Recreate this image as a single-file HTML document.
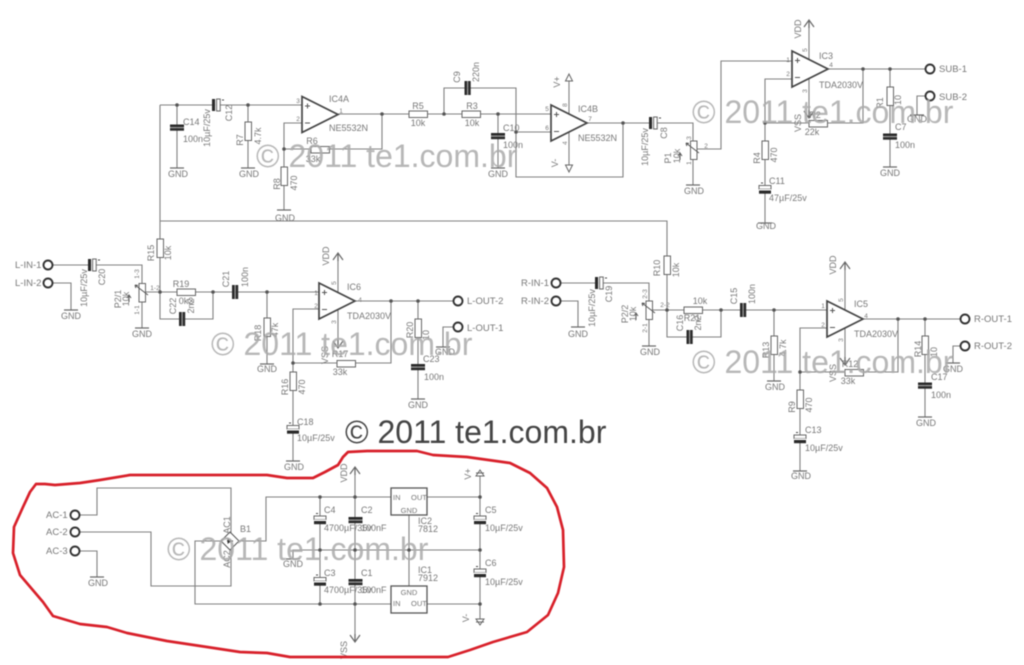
<!DOCTYPE html>
<html><head><meta charset="utf-8"><title>Schematic</title>
<style>
html,body{margin:0;padding:0;background:#fff;width:1024px;height:665px;overflow:hidden}
svg{display:block;filter:blur(.45px)}
text{font-family:"Liberation Sans",sans-serif;font-size:9px;fill:#777}
.c{text-anchor:middle}
.p{font-size:6.5px;fill:#777;text-anchor:middle}
.w{font-size:32px;fill:#aaa;fill-opacity:.85}
.k{font-size:9.5px;fill:#777}
.wire{fill:none;stroke:#808080;stroke-width:1.1}
.sym{fill:#fff;stroke:#666;stroke-width:1}
.amp{fill:#fff;stroke:#444;stroke-width:1.7}
.blk{fill:#2a2a2a;stroke:none}
.bar{stroke:#666;stroke-width:1.2;fill:none}
.pin{fill:#fff;stroke:#333;stroke-width:1.9}
</style></head><body>
<svg width="1024" height="665" viewBox="0 0 1024 665" xmlns="http://www.w3.org/2000/svg">
<defs>
<rect id="rv" class="sym" x="-3" y="0" width="6.5" height="18.5"/>
<rect id="rh" class="sym" x="0" y="-3" width="18.5" height="6.5"/>
<circle id="d" r="1.8" fill="#555"/>
<path id="g" class="bar" d="M-7 0H7"/>
<g id="cv"><rect class="blk" x="-7" y="-3" width="14" height="2.6"/><rect class="blk" x="-7" y=".6" width="14" height="2.6"/><rect x="-7" y="-.4" width="14" height="1" fill="#999"/></g>
<g id="ch"><rect class="blk" x="-3" y="-7" width="2.6" height="14"/><rect class="blk" x=".6" y="-7" width="2.6" height="14"/><rect x="-.4" y="-7" width="1" height="14" fill="#999"/></g>
<g id="pv"><rect class="sym" x="-6" y="-4" width="12" height="3.6"/><rect x="-6" y="-.4" width="12" height="1.4" fill="#fff"/><rect class="blk" x="-6" y="1" width="12" height="3.2"/><path d="M-4-6.5h2" stroke="#444" fill="none"/></g>
<g id="phr"><rect class="blk" x="-5" y="-6" width="3.2" height="12"/><rect x="-1.8" y="-6" width="1.4" height="12" fill="#fff"/><rect class="sym" x="-.4" y="-6" width="3.6" height="12"/><path d="M5-5h2" stroke="#444" fill="none"/></g>
<path id="up" class="bar" d="M-5 7L0 0L5 7M0 0V8" stroke-width="1.4"/>
<path id="down" class="bar" d="M-5-7L0 0L5-7M0 0V-8"/>
<g id="amp"><path class="amp" d="M0 0V36L36 18Z"/><path d="M3 9.500h5M5.500 7v5M3 26.500h5" stroke="#555" fill="none"/></g>
<path id="wp" fill="none" stroke="#555" d="M6 6L-7-4M-7-4l3 .5M-7-4l.8 3M-13 6v7M-15 9l2-3 2 3"/>
</defs>

<path class="wire" d="M160 105H302M177 105V168M248 105V168M302 123H284V210M284 149H382V114M338 114H498M444 114V88H516V177H623V123M498 114H551M498 114V168M516 132H551M587 123H693V185M569 81V165M697 149H721V61H792M792 79H765V223M765 123H863V69M827 69H925M809 20V118M890 69V167M925 96H917V115"/>
<path class="wire" d="M160 105V292M160 221H667V310M53 265H142V328M53 283H71V310M145 292H213M160 292V319H213V292M213 292H319M267 292V364M319 309H293V461M293 363H391V301M356 301H453M338 253V348M418 301V399M453 327H443V347"/>
<path class="wire" d="M561 283H649V346M561 301H578V327M652 310H721M667 310V337H721V310M721 310H827M774 310V381M827 328H800V471M800 372H898V319M863 319H960M845 262V365M925 319V417M960 346H953V363"/>
<path class="wire" d="M80 515H97V488H231V533M80 532H151V586H231V550M80 551H97V577M221 541H195V604H391M239 541H266V497H391M427 497H480M427 604H480M293 559V550H480M320 497V604M355 467V642M409 515V586M480 473V622"/>

<!-- top left -->
<use href="#d" x="177" y="105"/><use href="#cv" x="177" y="127.500"/><use href="#g" x="177" y="168"/>
<use href="#phr" x="217" y="105"/>
<use href="#d" x="248" y="105"/><use href="#rv" x="248" y="122"/><use href="#g" x="248" y="168"/>
<use href="#amp" x="302" y="96.500"/>
<use href="#d" x="284" y="149"/><use href="#rh" x="311" y="149.500"/><use href="#rv" x="284" y="167"/><use href="#g" x="284" y="210"/>
<use href="#d" x="382" y="114"/><use href="#rh" x="409" y="114"/><use href="#d" x="444" y="114"/><use href="#rh" x="462" y="114"/>
<use href="#ch" x="467.500" y="88"/>
<use href="#d" x="498" y="114"/><use href="#cv" x="498" y="136"/><use href="#g" x="498" y="168"/><use href="#d" x="516" y="132"/>
<use href="#amp" x="551" y="105"/>
<use href="#d" x="623" y="123"/><use href="#phr" x="654" y="123"/>
<use href="#rv" x="693.500" y="141"/><use href="#g" x="693" y="185"/><use href="#wp" x="693" y="147"/>
<use href="#d" x="765" y="123"/><use href="#rv" x="765" y="141"/><use href="#pv" x="765" y="189.500"/><use href="#g" x="765" y="223"/>
<path d="M569 74l-3.500 7h7zM569 172l-3.500-7h7z" fill="#fff" stroke="#666"/>
<use href="#amp" x="792" y="51"/><use href="#up" x="809" y="20"/><use href="#down" x="809" y="118"/>
<use href="#rh" x="809" y="123.500"/><use href="#d" x="863" y="69"/><use href="#d" x="890" y="69"/>
<use href="#rv" x="890" y="87"/><use href="#cv" x="890" y="136.500"/><use href="#g" x="890" y="167"/><use href="#g" x="917" y="115"/>
<circle class="pin" cx="930" cy="69" r="4.500"/><circle class="pin" cx="930" cy="96" r="4.500"/>

<!-- left channel -->
<circle class="pin" cx="48" cy="265" r="4.500"/><circle class="pin" cx="48" cy="283" r="4.500"/>
<use href="#g" x="71" y="310"/><use href="#phr" x="93" y="265"/>
<use href="#rv" x="142" y="283.500"/><use href="#wp" x="142" y="289"/><use href="#g" x="142" y="328"/>
<use href="#rv" x="160" y="239"/><use href="#d" x="160" y="292"/>
<use href="#rh" x="177" y="292"/><use href="#d" x="213" y="292"/><use href="#ch" x="182" y="319"/><use href="#ch" x="235" y="292"/>
<use href="#d" x="267" y="292"/><use href="#rv" x="267" y="318"/><use href="#g" x="267" y="364"/>
<use href="#amp" x="319" y="283"/><use href="#up" x="338" y="253"/><use href="#down" x="338" y="348"/>
<use href="#d" x="293" y="363"/><use href="#rh" x="337" y="363.500"/><use href="#rv" x="293" y="372"/><use href="#pv" x="293" y="429.500"/><use href="#g" x="293" y="461"/>
<use href="#d" x="391" y="301"/><use href="#d" x="418" y="301"/><use href="#rv" x="418" y="319"/><use href="#cv" x="418" y="367"/><use href="#g" x="418" y="399"/>
<use href="#g" x="443" y="347"/>
<circle class="pin" cx="458" cy="301" r="4.500"/><circle class="pin" cx="458" cy="327" r="4.500"/>

<!-- right channel -->
<circle class="pin" cx="556" cy="283" r="4.500"/><circle class="pin" cx="556" cy="301" r="4.500"/>
<use href="#g" x="578" y="327"/><use href="#phr" x="600" y="283"/>
<use href="#rv" x="649" y="301"/><use href="#wp" x="649" y="307"/><use href="#g" x="649" y="346"/>
<use href="#rv" x="667" y="256"/><use href="#d" x="667" y="310"/>
<use href="#rh" x="684" y="310"/><use href="#d" x="721" y="310"/><use href="#ch" x="689.500" y="337"/><use href="#ch" x="743" y="310"/>
<use href="#d" x="774" y="310"/><use href="#rv" x="774" y="336"/><use href="#g" x="774" y="381"/>
<use href="#amp" x="827" y="301"/><use href="#up" x="845" y="262"/><use href="#down" x="845" y="365"/>
<use href="#d" x="800" y="372"/><use href="#rh" x="845" y="372.500"/><use href="#rv" x="800" y="390"/><use href="#pv" x="800" y="439"/><use href="#g" x="800" y="471"/>
<use href="#d" x="898" y="319"/><use href="#d" x="925" y="319"/><use href="#rv" x="925" y="336"/><use href="#cv" x="925" y="385.500"/><use href="#g" x="925" y="417"/>
<use href="#g" x="953" y="363"/>
<circle class="pin" cx="965" cy="319" r="4.500"/><circle class="pin" cx="965" cy="346" r="4.500"/>

<!-- power -->
<circle class="pin" cx="75" cy="515" r="4.500"/><circle class="pin" cx="75" cy="532" r="4.500"/><circle class="pin" cx="75" cy="551" r="4.500"/>
<use href="#g" x="97" y="577"/><use href="#g" x="293" y="559"/>
<path d="M230 532l9 9-9 9-9-9z" fill="#fff" stroke="#555"/><path d="M227 541h6M228 539l3 2-3 2z" fill="#333" stroke="#333"/>
<rect x="391" y="488" width="36" height="27" fill="#fff" stroke="#555" stroke-width="1.3"/>
<rect x="391" y="586" width="36" height="27" fill="#fff" stroke="#555" stroke-width="1.3"/>
<use href="#d" x="320" y="497"/><use href="#d" x="320" y="550"/><use href="#d" x="320" y="604"/>
<use href="#d" x="355" y="497"/><use href="#d" x="355" y="550"/><use href="#d" x="355" y="604"/>
<use href="#d" x="409" y="550"/><use href="#d" x="480" y="497"/><use href="#d" x="480" y="550"/><use href="#d" x="480" y="604"/>
<use href="#pv" x="320" y="520"/><use href="#pv" x="320" y="581.500"/><use href="#cv" x="355.500" y="520"/><use href="#cv" x="355.500" y="582"/>
<use href="#pv" x="480" y="520"/><use href="#pv" x="480" y="573"/>
<use href="#up" x="355" y="467"/><use href="#down" x="355" y="642"/>
<path d="M480 470l-4 6h8zM480 625l-4-6h8z" fill="#fff" stroke="#666"/><path d="M476 473h8M476 622h8" stroke="#666"/>

<!-- labels -->
<text x="183" y="125">C14</text><text x="183" y="142">100n</text>
<text class="c" x="178" y="177">GND</text><text class="c" x="249" y="177">GND</text><text class="c" x="285" y="221">GND</text><text class="c" x="498" y="177">GND</text>
<text class="c" transform="translate(232,113) rotate(-90)">C12</text>
<text class="c" transform="translate(210,128) rotate(-90)">10µF/25v</text>
<text class="c" transform="translate(243,140) rotate(-90)">R7</text>
<text class="c" transform="translate(261,136) rotate(-90)">4.7k</text>
<text class="c" transform="translate(280,184) rotate(-90)">R8</text>
<text class="c" transform="translate(297,183) rotate(-90)">470</text>
<text x="329" y="102">IC4A</text><text x="329" y="131">NE5532N</text>
<text class="p" x="298" y="103">3</text><text class="p" x="298" y="121">2</text><text class="p" x="341" y="113">1</text>
<text class="c" x="312" y="144">R6</text><text class="c" x="313" y="162">33k</text>
<text class="c" x="418" y="109">R5</text><text class="c" x="418" y="126">10k</text>
<text class="c" x="472" y="109">R3</text><text class="c" x="472" y="126">10k</text>
<text class="c" transform="translate(460,77) rotate(-90)">C9</text>
<text class="c" transform="translate(479,72) rotate(-90)">220n</text>
<text x="503" y="131">C10</text><text x="503" y="148">100n</text>
<text class="c" transform="translate(560,82) rotate(-90)">V+</text>
<text class="c" transform="translate(558,163) rotate(-90)">V-</text>
<text x="578" y="112">IC4B</text><text x="578" y="141">NE5532N</text>
<text class="p" x="590" y="121">7</text><text class="p" x="547" y="111">5</text><text class="p" x="547" y="130">6</text>
<text class="p" transform="translate(567,105) rotate(-90)">8</text><text class="p" transform="translate(567,143) rotate(-90)">4</text>
<text class="c" transform="translate(667,133) rotate(-90)">C8</text>
<text class="c" transform="translate(648,147) rotate(-90)">10µF/25v</text>
<text class="c" transform="translate(671,158) rotate(-90)">P1</text>
<text class="c" transform="translate(680,156) rotate(-90)">10k</text>
<text class="p" transform="translate(691,138) rotate(-90)">3</text><text class="p" transform="translate(691,163) rotate(-90)">1</text><text class="p" x="706" y="148">2</text>
<text class="c" x="694" y="194">GND</text>
<text class="c" transform="translate(760,158) rotate(-90)">R4</text>
<text class="c" transform="translate(777,155) rotate(-90)">470</text>
<text x="769" y="184">C11</text><text x="769" y="201">47µF/25v</text><text class="c" x="766" y="229">GND</text>
<text class="p" x="788" y="62">1</text><text class="p" x="788" y="76">2</text><text class="p" x="831" y="67">4</text>
<text class="p" transform="translate(807,50) rotate(-90)">5</text><text class="p" transform="translate(807,91) rotate(-90)">3</text>
<text class="c" transform="translate(801,29) rotate(-90)">VDD</text>
<text class="c" transform="translate(801,123) rotate(-90)">VSS</text>
<text x="819" y="59">IC3</text><text x="819" y="88">TDA2030V</text>
<text class="c" x="815" y="118">R2</text><text class="c" x="812" y="135">22k</text>
<text class="c" transform="translate(883,103) rotate(-90)">R1</text>
<text class="c" transform="translate(901,100) rotate(-90)">10</text>
<text x="895" y="130">C7</text><text x="895" y="148">100n</text><text class="c" x="890" y="176">GND</text>
<text class="c" x="917" y="122">GND</text>
<text class="k" x="939" y="72">SUB-1</text><text class="k" x="939" y="100">SUB-2</text>

<text class="k" x="15" y="268">L-IN-1</text><text class="k" x="15" y="286">L-IN-2</text>
<text class="c" x="71" y="319">GND</text>
<text class="c" transform="translate(105,277) rotate(-90)">C20</text>
<text class="c" transform="translate(87,288) rotate(-90)">10µF/25v</text>
<text class="c" transform="translate(121,299) rotate(-90)">P2/1</text>
<text class="c" transform="translate(129,299) rotate(-90)">10k</text>
<text class="p" transform="translate(139,274) rotate(-90)">1-3</text><text class="p" transform="translate(139,310) rotate(-90)">1-1</text><text class="p" x="155" y="290">1-2</text>
<text class="c" x="142" y="337">GND</text>
<text class="c" transform="translate(154,253) rotate(-90)">R15</text>
<text class="c" transform="translate(171,253) rotate(-90)">10k</text>
<text class="c" x="181" y="287">R19</text><text class="c" x="186" y="304">0k2</text>
<text class="c" transform="translate(176,306) rotate(-90)">C22</text>
<text class="c" transform="translate(194,306) rotate(-90)">2n2</text>
<text class="c" transform="translate(229,279) rotate(-90)">C21</text>
<text class="c" transform="translate(248,277) rotate(-90)">100n</text>
<text class="c" transform="translate(261,333) rotate(-90)">R18</text>
<text class="c" transform="translate(278,330) rotate(-90)">47k</text>
<text class="c" x="267" y="372">GND</text>
<text class="p" x="316" y="295">1</text><text class="p" x="316" y="308">2</text><text class="p" x="360" y="302">4</text>
<text class="p" transform="translate(336,283) rotate(-90)">5</text><text class="p" transform="translate(336,322) rotate(-90)">3</text>
<text class="c" transform="translate(329,256) rotate(-90)">VDD</text>
<text class="c" transform="translate(328,355) rotate(-90)">VSS</text>
<text x="347" y="290">IC6</text><text x="347" y="319">TDA2030V</text>
<text class="c" x="340" y="357">R17</text><text class="c" x="340" y="375">33k</text>
<text class="c" transform="translate(288,387) rotate(-90)">R16</text>
<text class="c" transform="translate(305,387) rotate(-90)">470</text>
<text x="297" y="425">C18</text><text x="297" y="441">10µF/25v</text><text class="c" x="294" y="470">GND</text>
<text class="c" transform="translate(413,330) rotate(-90)">R20</text>
<text class="c" transform="translate(429,335) rotate(-90)">10</text>
<text x="423" y="362">C23</text><text x="424" y="380">100n</text><text class="c" x="418" y="408">GND</text>
<text class="c" x="445" y="355">GND</text>
<text class="k" x="467" y="304">L-OUT-2</text><text class="k" x="467" y="331">L-OUT-1</text>

<text class="k" x="521" y="286">R-IN-1</text><text class="k" x="521" y="304">R-IN-2</text>
<text class="c" x="578" y="337">GND</text>
<text class="c" transform="translate(612,294) rotate(-90)">C19</text>
<text class="c" transform="translate(595,308) rotate(-90)">10µF/25v</text>
<text class="c" transform="translate(628,314) rotate(-90)">P2/2</text>
<text class="c" transform="translate(636,314) rotate(-90)">10k</text>
<text class="p" transform="translate(647,294) rotate(-90)">2-3</text><text class="p" transform="translate(647,328) rotate(-90)">2-1</text><text class="p" x="665" y="307">2-2</text>
<text class="c" x="650" y="355">GND</text>
<text class="c" transform="translate(660,268) rotate(-90)">R10</text>
<text class="c" transform="translate(679,270) rotate(-90)">10k</text>
<text class="c" x="700" y="304">10k</text><text class="c" x="692" y="321">R21</text>
<text class="c" transform="translate(683,323) rotate(-90)">C16</text>
<text class="c" transform="translate(701,323) rotate(-90)">2n2</text>
<text class="c" transform="translate(737,296) rotate(-90)">C15</text>
<text class="c" transform="translate(755,294) rotate(-90)">100n</text>
<text class="c" transform="translate(769,350) rotate(-90)">R13</text>
<text class="c" transform="translate(786,348) rotate(-90)">4.7k</text>
<text class="c" x="775" y="390">GND</text>
<text class="p" x="823" y="308">1</text><text class="p" x="823" y="327">2</text><text class="p" x="866" y="318">4</text>
<text class="p" transform="translate(843,300) rotate(-90)">5</text><text class="p" transform="translate(843,340) rotate(-90)">3</text>
<text class="c" transform="translate(836,265) rotate(-90)">VDD</text>
<text class="c" transform="translate(836,373) rotate(-90)">VSS</text>
<text x="854" y="307">IC5</text><text x="854" y="337">TDA2030V</text>
<text class="c" x="850" y="367">R12</text><text class="c" x="848" y="384">33k</text>
<text class="c" transform="translate(795,407) rotate(-90)">R9</text>
<text class="c" transform="translate(812,405) rotate(-90)">470</text>
<text x="805" y="433">C13</text><text x="805" y="451">10µF/25v</text><text class="c" x="801" y="479">GND</text>
<text class="c" transform="translate(921,349) rotate(-90)">R14</text>
<text class="c" transform="translate(937,352) rotate(-90)">10</text>
<text x="931" y="380">C17</text><text x="931" y="398">100n</text><text class="c" x="926" y="426">GND</text>
<text class="c" x="953" y="372">GND</text>
<text class="k" x="974" y="322">R-OUT-1</text><text class="k" x="974" y="349">R-OUT-2</text>

<text class="k" x="46" y="518">AC-1</text><text class="k" x="46" y="535">AC-2</text><text class="k" x="46" y="554">AC-3</text>
<text class="c" x="98" y="586">GND</text>
<text class="c" transform="translate(230,525) rotate(-90)">AC1</text>
<text class="c" transform="translate(230,559) rotate(-90)">AC2</text>
<text x="240" y="532">B1</text>
<text class="c" x="293" y="567">GND</text>
<text class="c" transform="translate(347,473) rotate(-90)">VDD</text>
<text class="c" transform="translate(347,650) rotate(-90)">VSS</text>
<text x="324" y="513">C4</text><text x="324" y="531">4700µF/35v</text>
<text x="361" y="513">C2</text><text x="361" y="531">100nF</text>
<text x="324" y="576">C3</text><text x="324" y="593">4700µF/35v</text>
<text x="361" y="576">C1</text><text x="361" y="593">100nF</text>
<text x="393" y="500" style="font-size:7.500px">IN</text><text x="411" y="500" style="font-size:7.500px">OUT</text>
<text class="c" x="409" y="513" style="font-size:7.500px">GND</text>
<text class="c" x="409" y="595" style="font-size:7.500px">GND</text>
<text x="393" y="606" style="font-size:7.500px">IN</text><text x="411" y="606" style="font-size:7.500px">OUT</text>
<text x="418" y="524">IC2</text><text x="418" y="532">7812</text>
<text x="418" y="573">IC1</text><text x="418" y="581">7912</text>
<text class="c" transform="translate(471,474) rotate(-90)">V+</text>
<text class="c" transform="translate(469,618) rotate(-90)">V-</text>
<text x="485" y="513">C5</text><text x="485" y="531">10µF/25v</text>
<text x="485" y="566">C6</text><text x="485" y="585">10µF/25v</text>

<path d="M36 484L45 484L55 485L80 483L100 480L130 475H267L287 478H313L325 472L338 465L343 457L348 452L367 451H417L433 455L467 457L510 463L530 473L547 488L557 507L563 530L564 567L558 593L548 615L527 632L493 642L470 650L448 657H290L267 653L240 652L207 647L167 641L127 633L107 627L80 624L53 616L43 602L20 575L13 553L14 527L23 507L30 492Z" fill="none" stroke="#d8202a" stroke-width="2.700" stroke-linejoin="round"/>

<text class="w" x="692" y="123">© 2011 te1.com.br</text>
<text class="w" x="256" y="167">© 2011 te1.com.br</text>
<text class="w" x="211" y="355">© 2011 te1.com.br</text>
<text class="w" x="692" y="373">© 2011 te1.com.br</text>
<text class="w" x="167" y="560">© 2011 te1.com.br</text>
<text class="w" x="345" y="443" style="fill:#444;fill-opacity:1">© 2011 te1.com.br</text>
</svg>
</body></html>
